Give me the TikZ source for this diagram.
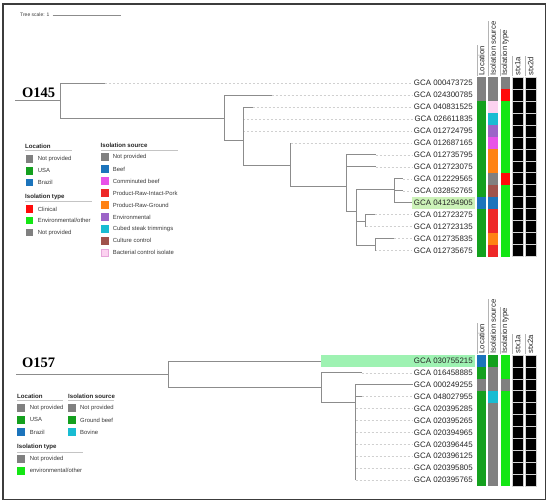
\documentclass[tikz,border=0pt]{standalone}
\usepackage{fontspec}
\setmainfont{Liberation Sans}
\newfontfamily\serifface{Liberation Serif}
\definecolor{cgray}{HTML}{808080}
\definecolor{cusa}{HTML}{14A01E}
\definecolor{cbraz}{HTML}{1C74BC}
\definecolor{cclin}{HTML}{FF0A0A}
\definecolor{cenv}{HTML}{14E614}
\definecolor{cmag}{HTML}{E852E8}
\definecolor{cpork}{HTML}{EE2828}
\definecolor{corange}{HTML}{FF8214}
\definecolor{cpurp}{HTML}{9C64C8}
\definecolor{ccyan}{HTML}{19BCD2}
\definecolor{cbrown}{HTML}{A0524B}
\definecolor{cpink}{HTML}{FCD2F0}
\definecolor{cpinkd}{HTML}{E6A6DA}
\definecolor{hlA}{HTML}{CCF2B8}
\definecolor{hlB}{HTML}{9EF2B2}
\definecolor{treec}{HTML}{8C8C8C}
\definecolor{leadc}{HTML}{D0D0D0}
\definecolor{txt}{HTML}{262626}
\definecolor{legtxt}{HTML}{3A3A3A}
\definecolor{framec}{HTML}{3C3C3C}
\definecolor{ulinec}{HTML}{C4C4C4}
\definecolor{sepc}{HTML}{D2D2D2}
\definecolor{hlinec}{HTML}{B4B4B4}
\tikzset{
  branch/.style={draw=treec, line width=0.9pt},
  leader/.style={draw=leadc, line width=0.6pt, dash pattern=on 2pt off 2pt},
  leaf/.style={font=\fontsize{7.9}{8}\selectfont, text=txt, inner sep=1.5pt, anchor=east},
  hdr/.style={font=\fontsize{7.7}{8}\selectfont, text=txt, rotate=90, anchor=west, inner sep=0.5pt},
  hdrline/.style={draw=hlinec, line width=0.35pt},
  blackcell/.style={fill=black, draw=sepc, line width=0.7pt},
  sero/.style={font=\serifface\bfseries\fontsize{14.5}{15}\selectfont, text=black, anchor=west, inner sep=0pt},
  legtitle/.style={font=\bfseries\fontsize{6.1}{7}\selectfont, text=txt, anchor=west, inner sep=0pt},
  legentry/.style={font=\fontsize{5.9}{7}\selectfont, text=legtxt, anchor=west, inner sep=0pt},
  legline/.style={draw=ulinec, line width=0.8pt},
  scaletxt/.style={font=\fontsize{5}{6}\selectfont, text=legtxt, anchor=west, inner sep=0pt},
  frame/.style={draw=framec, line width=1.3pt}
}
\begin{document}
\begin{tikzpicture}[x=1pt,y=-1pt]
\useasboundingbox (0,0) rectangle (550,503);
\fill[white] (0,0) rectangle (550,503);
\draw[frame] (3,4) rectangle (545.5,499.5);

% tree scale
\node[scaletxt] (ts) at (20,15) {Tree scale: 1};
\coordinate (scA) at (52.7,15);
\coordinate (scB) at (120.7,15);
\draw[draw=treec, line width=0.7pt] (scA) -- (scB);

% ===================== TOP PANEL (O145) =====================
\node[sero] (o145) at (22,93) {O145};
\fill[hlA] (412.3,196.8) rectangle (474.5,208.8);

\foreach \i/\lab/\lc/\sc/\tc in {
 1/000473725/cgray/cgray/cgray,
 2/024300785/cgray/cgray/cclin,
 3/040831525/cusa/cpink/cenv,
 4/026611835/cusa/ccyan/cenv,
 5/012724795/cusa/cpurp/cenv,
 6/012687165/cusa/cmag/cenv,
 7/012735795/cusa/corange/cenv,
 8/012723075/cusa/corange/cenv,
 9/012229565/cusa/cgray/cclin,
 10/032852765/cusa/cbrown/cenv,
 11/041294905/cbraz/cbraz/cenv,
 12/012723275/cusa/cpork/cenv,
 13/012723135/cusa/cpork/cenv,
 14/012735835/cusa/corange/cenv,
 15/012735675/cusa/cpork/cenv}{
  \pgfmathsetmacro\yy{83+11.98*(\i-1)}
  \node[leaf] (t\i) at (474.5,\yy) {GCA \lab};
  \fill[\lc] (476.7,\yy-6.05) rectangle (486.3,\yy+6.05);
  \fill[\sc] (488.3,\yy-6.05) rectangle (498,\yy+6.05);
  \fill[\tc] (500.5,\yy-6.05) rectangle (510,\yy+6.05);
  \filldraw[blackcell] (512.3,\yy-6) rectangle (523,\yy+6);
  \filldraw[blackcell] (525,\yy-6) rectangle (536,\yy+6);
}

% headers top
\node[hdr] (hL1) at (481.5,76) {Location};
\node[hdr] (hS1) at (493.15,76) {Isolation source};
\node[hdr] (hT1) at (505.25,76) {Isolation type};
\node[hdr] (hX1) at (517.65,76) {stx1a};
\node[hdr] (hY1) at (530.5,76) {stx2d};
\foreach \h/\d in {hL1/4.8,hS1/4.85,hT1/4.75,hX1/5.35,hY1/5.5}{
  \draw[hdrline] ([xshift=-\d pt]\h.west) -- ([xshift=-\d pt]\h.east);
}

% tree top
\coordinate (rootT) at (15,100.5);
\coordinate (Rt) at (60,100.5);
\coordinate (A) at (224,118);
\coordinate (B) at (243.3,140.7);
\coordinate (C) at (290.7,165);
\coordinate (D) at (346.7,186);
\coordinate (E) at (356.7,211.7);
\coordinate (F) at (394.3,189);
\coordinate (G) at (365.7,221);
\coordinate (H) at (375.3,245);
\coordinate (te1) at (105,83);
\coordinate (te2) at (271.7,94.98);
\coordinate (te3) at (252.7,106.96);
\coordinate (te4) at (243.3,118.94);
\coordinate (te5) at (243.3,130.92);
\coordinate (te6) at (290.7,142.9);
\coordinate (te7) at (375.7,154.88);
\coordinate (te8) at (375.7,166.86);
\coordinate (te9) at (403.3,178.84);
\coordinate (te10) at (403.3,190.82);
\coordinate (te11) at (412.3,202.8);
\coordinate (te12) at (375,214.78);
\coordinate (te13) at (365.7,226.76);
\coordinate (te14) at (394.3,238.74);
\coordinate (te15) at (375.3,250.72);
\foreach \i in {1,...,10,12,13,14,15}{
  \draw[leader] (te\i) -- (te\i -| t\i.west);
}
\draw[branch] (rootT) -- (Rt);
\draw[branch] (Rt) |- (te1);
\draw[branch] (Rt) |- (A);
\draw[branch] (A) |- (te2);
\draw[branch] (A) |- (B);
\draw[branch] (B) |- (te3);
\draw[branch] (B) |- (te4);
\draw[branch] (B) |- (te5);
\draw[branch] (B) |- (C);
\draw[branch] (C) |- (te6);
\draw[branch] (C) |- (D);
\draw[branch] (D) |- (te7);
\draw[branch] (D) |- (te8);
\draw[branch] (D) |- (E);
\draw[branch] (E) |- (F);
\draw[branch] (E) |- (G);
\draw[branch] (E) |- (H);
\draw[branch] (F) |- (te9);
\draw[branch] (F) |- (te10);
\draw[branch] (F) |- (te11);
\draw[branch] (G) |- (te12);
\draw[branch] (G) |- (te13);
\draw[branch] (H) |- (te14);
\draw[branch] (H) |- (te15);

% legends top
\node[legtitle] (lgLoc1) at (25,146.7) {Location};
\draw[legline] (25,150.9) -- (72,150.9);
\foreach \c/\t/\y/\n in {cgray/Not provided/159/a,cusa/USA/170.9/b,cbraz/Brazil/182.7/c}{
  \fill[\c] (26,\y-3.7) rectangle (33.4,\y+3.7);
  \node[legentry] (lgLoc1\n) at (37.7,\y) {\t};
}
\node[legtitle] (lgTyp1) at (25,196.7) {Isolation type};
\draw[legline] (25,201) -- (92,201);
\foreach \c/\t/\y/\n in {cclin/Clinical/209/a,cenv/Environmental\slash other/220.8/b,cgray/Not provided/232.5/c}{
  \fill[\c] (26,\y-3.7) rectangle (33.4,\y+3.7);
  \node[legentry] (lgTyp1\n) at (37.7,\y) {\t};
}
\node[legtitle] (lgSrc1) at (100.5,145.3) {Isolation source};
\draw[legline] (100.5,150.9) -- (178,150.9);
\foreach \c/\t/\k/\n in {cgray/Not provided/0/a,cbraz/Beef/1/b,cmag/Comminuted beef/2/c,cpork/Product-Raw-Intact-Pork/3/d,corange/Product-Raw-Ground/4/e,cpurp/Environmental/5/f,ccyan/Cubed steak trimmings/6/g,cbrown/Culture control/7/h}{
  \pgfmathsetmacro\yy{157.3+11.92*\k}
  \fill[\c] (101,\yy-3.8) rectangle (108.8,\yy+3.8);
  \node[legentry] (lgSrc1\n) at (112.7,\yy) {\t};
}
\filldraw[fill=cpink, draw=cpinkd, line width=0.6pt] (101.3,249.2) rectangle (108.5,256.4);
\node[legentry] (lgSrc1i) at (112.7,252.7) {Bacterial control isolate};

% ===================== BOTTOM PANEL (O157) =====================
\node[sero] (o157) at (22,363) {O157};
\fill[hlB] (321,355.2) rectangle (474.5,366.8);

\foreach \i/\lab/\lc/\sc/\tc in {
 1/030755215/cbraz/cusa/cenv,
 2/016458885/cusa/cgray/cenv,
 3/000249255/cgray/cgray/cgray,
 4/048027955/cusa/ccyan/cenv,
 5/020395285/cusa/cgray/cenv,
 6/020395265/cusa/cgray/cenv,
 7/020394965/cusa/cgray/cenv,
 8/020396445/cusa/cgray/cenv,
 9/020396125/cusa/cgray/cenv,
 10/020395805/cusa/cgray/cenv,
 11/020395765/cusa/cgray/cenv}{
  \pgfmathsetmacro\yy{361+11.9*(\i-1)}
  \node[leaf] (b\i) at (474.5,\yy) {GCA \lab};
  \fill[\lc] (476.7,\yy-6) rectangle (486.3,\yy+6);
  \fill[\sc] (488.3,\yy-6) rectangle (498,\yy+6);
  \fill[\tc] (500.5,\yy-6) rectangle (510,\yy+6);
  \filldraw[blackcell] (512.3,\yy-5.95) rectangle (523,\yy+5.95);
  \filldraw[blackcell] (525,\yy-5.95) rectangle (536,\yy+5.95);
}

\node[hdr] (hL2) at (481.5,354) {Location};
\node[hdr] (hS2) at (493.15,354) {Isolation source};
\node[hdr] (hT2) at (505.25,354) {Isolation type};
\node[hdr] (hX2) at (517.65,354) {stx1a};
\node[hdr] (hY2) at (530.5,354) {stx2a};
\foreach \h/\d in {hL2/4.8,hS2/4.85,hT2/4.75,hX2/5.35,hY2/5.5}{
  \draw[hdrline] ([xshift=-\d pt]\h.west) -- ([xshift=-\d pt]\h.east);
}

\coordinate (rootB) at (16,374);
\coordinate (Rb) at (168.3,374);
\coordinate (P) at (321,387.7);
\coordinate (Q) at (355.7,402.7);
\coordinate (be1) at (321,361);
\coordinate (be2) at (361.7,372.9);
\coordinate (be3) at (413,384.8);
\coordinate (be4) at (362,396.7);
\foreach \i in {5,...,11}{
  \pgfmathsetmacro\yy{361+11.9*(\i-1)}
  \coordinate (be\i) at (355.7,\yy);
}
\foreach \i in {2,4,5,6,7,8,9,10,11}{
  \draw[leader] (be\i) -- (be\i -| b\i.west);
}
\draw[branch] (rootB) -- (Rb);
\draw[branch] (Rb) |- (be1);
\draw[branch] (Rb) |- (P);
\draw[branch] (P) |- (be2);
\draw[branch] (P) |- (Q);
\foreach \i in {3,...,11}{
  \draw[branch] (Q) |- (be\i);
}

% legends bottom
\node[legtitle] (lgLoc2) at (17,396.2) {Location};
\draw[legline] (17,400.8) -- (63,400.8);
\foreach \c/\t/\y/\n in {cgray/Not provided/407.7/a,cusa/USA/419.9/b,cbraz/Brazil/432/c}{
  \fill[\c] (17.3,\y-3.9) rectangle (25.3,\y+3.9);
  \node[legentry] (lgLoc2\n) at (29.7,\y) {\t};
}
\node[legtitle] (lgSrc2) at (68,396.2) {Isolation source};
\draw[legline] (68,400.8) -- (114,400.8);
\foreach \c/\t/\y/\n in {cgray/Not provided/407.7/a,cusa/Ground beef/419.9/b,ccyan/Bovine/432/c}{
  \fill[\c] (68,\y-3.9) rectangle (76,\y+3.9);
  \node[legentry] (lgSrc2\n) at (80,\y) {\t};
}
\node[legtitle] (lgTyp2) at (17,446.7) {Isolation type};
\draw[legline] (17,452) -- (83,452);
\foreach \c/\t/\y/\n in {cgray/Not provided/458.7/a,cenv/environmental\slash other/470.7/b}{
  \fill[\c] (17.3,\y-3.9) rectangle (25.3,\y+3.9);
  \node[legentry] (lgTyp2\n) at (29.7,\y) {\t};
}
\end{tikzpicture}
\end{document}
